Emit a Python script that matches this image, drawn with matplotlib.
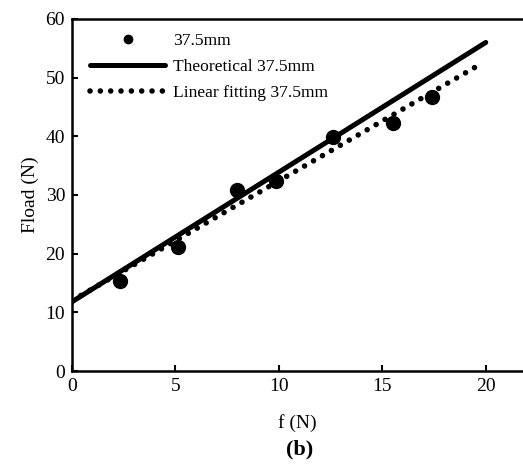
import matplotlib.pyplot as plt
import numpy as np

# measured points, 37.5mm
f_meas = [2.32, 5.10, 7.99, 9.86, 12.62, 15.52, 17.42]
F_meas = [15.3, 21.1, 30.8, 32.3, 39.9, 42.2, 46.7]

# theoretical line and linear fit (end points)
f_theo = [0, 20]
F_theo = [11.8, 56.0]
f_fit = [0, 19.5]
F_fit = [12.0, 51.8]

plt.rcParams['font.family'] = ['Liberation Serif', 'DejaVu Serif']

fig = plt.figure(figsize=(5.23, 4.71), dpi=100)
ax = fig.add_axes([0.1377, 0.2123, 0.8623, 0.7474])

ax.plot(f_meas, F_meas, 'o', color='black', markersize=10, label='37.5mm')
ax.plot(f_theo, F_theo, '-', color='black', linewidth=3.6,
        solid_capstyle='round', label='Theoretical 37.5mm')
ax.plot(f_fit, F_fit, color='black', linewidth=4, linestyle=(0, (0.01, 1.85)),
        dash_capstyle='round', label='Linear fitting 37.5mm')

ax.set_xlim(0, 21.8)
ax.set_ylim(0, 60)
ax.set_xticks([0, 5, 10, 15, 20])
ax.set_yticks([0, 10, 20, 30, 40, 50, 60])
ax.tick_params(direction='in', length=4, width=1.5, labelsize=14, pad=5)
for s in ['left', 'bottom', 'top']:
    ax.spines[s].set_linewidth(1.8)
ax.spines['right'].set_visible(False)

ax.set_xlabel('f (N)', fontsize=14, labelpad=14)
ax.set_ylabel('Fload (N)', fontsize=14, labelpad=5)

leg = ax.legend(loc='upper left', bbox_to_anchor=(0.04, 0.96), frameon=False,
                fontsize=12.6, handlelength=4.3, markerscale=0.6,
                labelspacing=0.55, borderaxespad=0, borderpad=0,
                handletextpad=0.45)

fig.text(0.573, 0.035, '(b)', fontsize=16, fontweight='bold', ha='center')

fig.savefig('out.png', dpi=100)
